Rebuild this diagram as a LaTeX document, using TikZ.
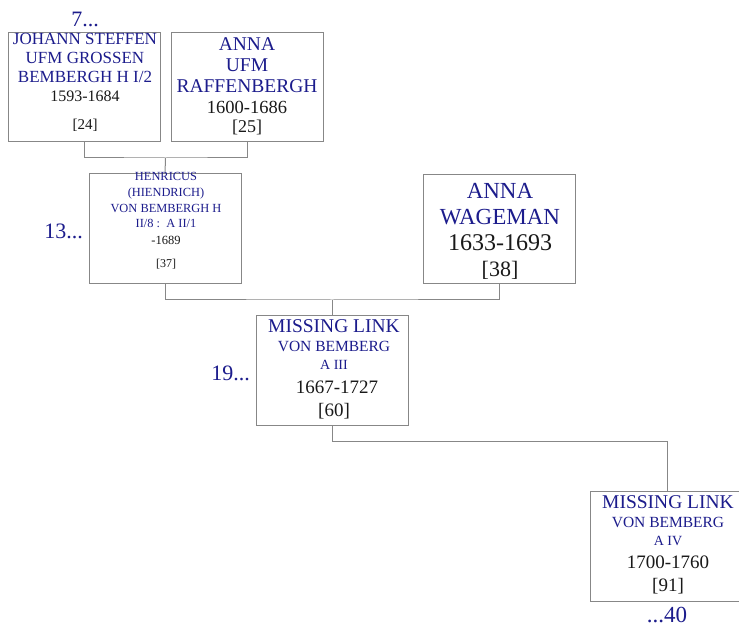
\documentclass[tikz,border=0pt]{standalone}
\usepackage{fontspec}
\setmainfont{Liberation Serif}
\definecolor{navy}{RGB}{28,28,140}
\definecolor{boxgray}{RGB}{135,135,135}
\newcommand{\fsz}[1]{\fontsize{#1}{#1}\selectfont}
\begin{document}
\begin{tikzpicture}[x=1pt,y=-1pt,
  box/.style={draw=boxgray, line width=1pt, fill=white, inner sep=0, minimum width=152pt, minimum height=109pt},
  link/.style={draw=boxgray, line width=1pt},
  nm/.style={text=navy, anchor=base, inner sep=0},
  dt/.style={text=black!90, anchor=base, inner sep=0},
  gen/.style={text=navy, inner sep=0}]
\useasboundingbox (0,0) rectangle (739,628);
% boxes
\node[box] (b1) at (84,87.5) {};
\node[box] (b2) at (247,87.5) {};
\node[box, minimum height=110pt] (b3) at (165,229) {};
\node[box] (b4) at (499,229.5) {};
\node[box] (b5) at (332,370.5) {};
\node[box, minimum width=154pt, minimum height=110pt] (b6) at (667,546) {};
% connectors
\coordinate (j1) at (165.5,158);
\coordinate (j2) at (332,300);
\coordinate (j3) at (332,441);
\draw[link] (b1.south) |- (j1) -| (b2.south);
\draw[link] (j1) -- (b3.north);
\draw[link] (b3.south) |- (j2) -| (b4.south);
\draw[link] (j2) -- (b5.north);
\draw[link] (b5.south) -- (j3) -| (b6.north);
% box 1
\node[nm] (t11) at (85,45) {\fsz{17}JOHANN STEFFEN};
\node[nm] (t12) at (85,64) {\fsz{17}UFM GROSSEN};
\node[nm] (t13) at (85,83) {\fsz{17}BEMBERGH H I/2};
\node[dt] (t14) at (85,102) {\fsz{16}1593-1684};
\node[dt] (t15) at (85,130) {\fsz{15}[24]};
% box 2
\node[nm] (t21) at (247,51) {\fsz{19.5}ANNA};
\node[nm] (t22) at (247,72) {\fsz{19.5}UFM};
\node[nm] (t23) at (247,93) {\fsz{19.5}RAFFENBERGH};
\node[dt] (t24) at (247,114) {\fsz{18.5}1600-1686};
\node[dt] (t25) at (247,133) {\fsz{18}[25]};
% box 3
\node[nm] (t31) at (166,181) {\fsz{12.4}HENRICUS};
\node[nm] (t32) at (166,197) {\fsz{12.4}(HIENDRICH)};
\node[nm] (t33) at (166,213) {\fsz{12.4}VON BEMBERGH H};
\node[nm] (t34) at (166,228) {\fsz{12.4}II/8 :\ \ A II/1};
\node[dt] (t35) at (166,245) {\fsz{12.5}-1689};
\node[dt] (t36) at (166,268) {\fsz{12}[37]};
% box 4
\node[nm] (t41) at (500,199) {\fsz{23}ANNA};
\node[nm] (t42) at (500,225) {\fsz{23}WAGEMAN};
\node[dt] (t43) at (500,251) {\fsz{24}1633-1693};
\node[dt] (t44) at (500,277) {\fsz{22}[38]};
% box 5
\node[nm] (t51) at (334,333) {\fsz{19.5}MISSING LINK};
\node[nm] (t52) at (334,352) {\fsz{15.5}VON BEMBERG};
\node[nm] (t53) at (334,370) {\fsz{14}A III};
\node[dt] (t54) at (337,393) {\fsz{19}1667-1727};
\node[dt] (t55) at (334,416) {\fsz{19}[60]};
% box 6
\node[nm] (t61) at (668,508) {\fsz{19.5}MISSING LINK};
\node[nm] (t62) at (668,527) {\fsz{15.5}VON BEMBERG};
\node[nm] (t63) at (668,545) {\fsz{14}A IV};
\node[dt] (t64) at (668,568) {\fsz{19}1700-1760};
\node[dt] (t65) at (668,591) {\fsz{19}[91]};
% generation labels
\node[gen, anchor=base] (g7) at (85,27) {\fsz{22}7...};
\node[gen, anchor=base east] (g13) at (83,239) {\fsz{22}13...};
\node[gen, anchor=base east] (g19) at (250,380) {\fsz{22}19...};
\node[gen, anchor=base] (g40) at (667,622) {\fsz{23}...40};
\end{tikzpicture}
\end{document}
